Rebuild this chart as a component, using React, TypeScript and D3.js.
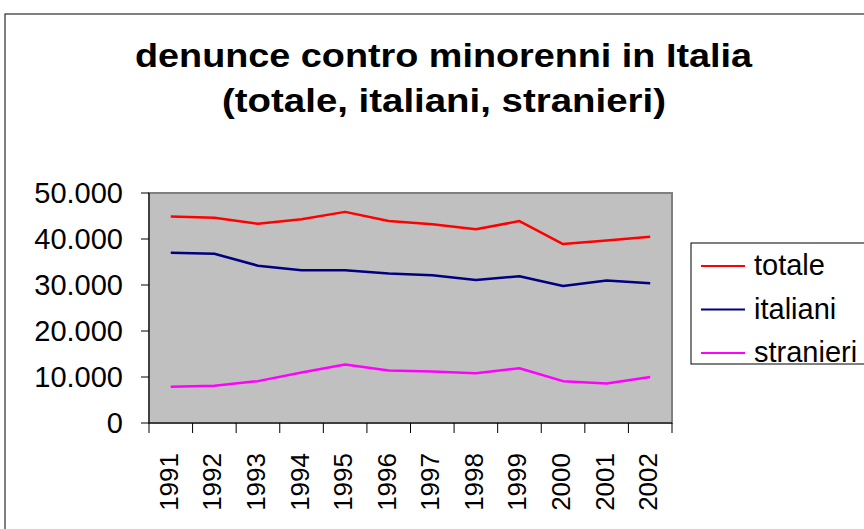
import React from "react";
import * as d3 from "d3";

const years = ["1991","1992","1993","1994","1995","1996","1997","1998","1999","2000","2001","2002"];
const totale = [44900,44600,43300,44300,45900,43900,43200,42100,43900,38900,39700,40500];
const italiani = [37000,36800,34200,33200,33200,32500,32100,31100,31900,29800,31000,30400];
const stranieri = [7900,8100,9100,11000,12700,11400,11200,10800,11900,9100,8600,10000];
const yTicks = [0,10000,20000,30000,40000,50000];
const seriesNames = ["totale","italiani","stranieri"];
const seriesColors = ["#FF0000","#000080","#FF00FF"];
const titleLines = ["denunce contro minorenni in Italia", "(totale, italiani, stranieri)"];

const W = 864, H = 529;
const plot = { left: 149, right: 672, top: 193, bottom: 423 };
const font = "'Liberation Sans', Arial, sans-serif";

export default function App() {
  const x = d3.scaleBand<string>().domain(years).range([plot.left, plot.right]);
  const y = d3.scaleLinear().domain([0, 50000]).range([plot.bottom, plot.top]);
  const line = d3.line<number>().x((_, i) => (x(years[i]) as number) + x.bandwidth() / 2).y(d => y(d));
  const data = [totale, italiani, stranieri];
  const fmt = (v: number) => v === 0 ? "0" : d3.format(",")(v).replace(/,/g, ".");
  return (
    <svg width={W} height={H} style={{ position: "absolute", left: 0, top: 0, background: "#fff" }} fontFamily={font}>
      <rect x={5} y={14} width={W + 10} height={H + 10} fill="#fff" stroke="#000" strokeWidth={1} />
      <text x={443.5} y={67} textAnchor="middle" fontSize={34} fontWeight="bold" textLength={617} lengthAdjust="spacingAndGlyphs">{titleLines[0]}</text>
      <text x={444} y={112} textAnchor="middle" fontSize={34} fontWeight="bold" textLength={444} lengthAdjust="spacingAndGlyphs">{titleLines[1]}</text>
      <rect x={plot.left} y={plot.top} width={plot.right - plot.left} height={plot.bottom - plot.top} fill="#C0C0C0" stroke="#808080" strokeWidth={2} />
      {data.map((s, i) => (
        <path key={i} d={line(s) || ""} fill="none" stroke={seriesColors[i]} strokeWidth={2.5} strokeLinejoin="round" />
      ))}
      <line x1={plot.left} x2={plot.left} y1={plot.top} y2={plot.bottom} stroke="#000" strokeWidth={1} />
      <line x1={plot.left} x2={plot.right} y1={plot.bottom} y2={plot.bottom} stroke="#000" strokeWidth={1} />
      {yTicks.map(t => (
        <g key={t}>
          <line x1={plot.left - 8} x2={plot.left} y1={y(t)} y2={y(t)} stroke="#000" />
          <text x={plot.left - 26} y={y(t)} dy="0.35em" textAnchor="end" fontSize={29}>{fmt(t)}</text>
        </g>
      ))}
      {years.map(yr => (
        <line key={"t" + yr} x1={(x(yr) as number)} x2={(x(yr) as number)} y1={plot.bottom} y2={plot.bottom + 10} stroke="#000" />
      ))}
      <line x1={plot.right} x2={plot.right} y1={plot.bottom} y2={plot.bottom + 10} stroke="#000" />
      {years.map(yr => {
        const cx = (x(yr) as number) + x.bandwidth() / 2;
        return (
          <text key={yr} transform={`translate(${cx + 7},${plot.bottom + 30}) rotate(-90)`} textAnchor="end" fontSize={26}>{yr}</text>
        );
      })}
      <rect x={691} y={243} width={190} height={121} fill="#fff" stroke="#000" strokeWidth={1} />
      {seriesNames.map((n, i) => (
        <g key={n}>
          <line x1={701} x2={745} y1={266 + i * 43.5} y2={266 + i * 43.5} stroke={seriesColors[i]} strokeWidth={2} />
          <text x={754} y={275 + i * 43.5} fontSize={29}>{n}</text>
        </g>
      ))}
    </svg>
  );
}
